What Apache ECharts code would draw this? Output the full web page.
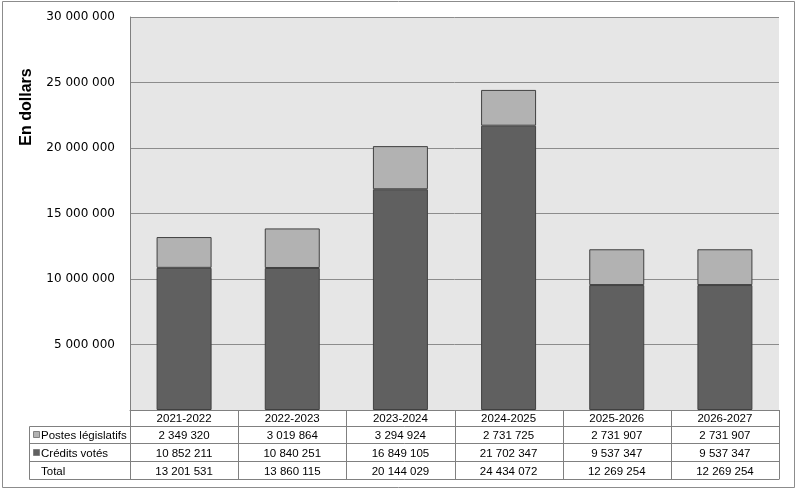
<!DOCTYPE html>
<html><head><meta charset="utf-8">
<script src="https://cdn.jsdelivr.net/npm/echarts@6/dist/echarts.min.js"></script>
<style>html,body{margin:0;padding:0;background:#fff}#c{width:797px;height:491px}</style>
</head><body><div id="c"></div>
<script>
var categories = ['2021-2022','2022-2023','2023-2024','2024-2025','2025-2026','2026-2027'];
var postes = [2349320, 3019864, 3294924, 2731725, 2731907, 2731907];
var credits = [10852211, 10840251, 16849105, 21702347, 9537347, 9537347];
var totals = [13201531, 13860115, 20144029, 24434072, 12269254, 12269254];
var rowNames = ['Postes législatifs', 'Crédits votés', 'Total'];
var yTitle = 'En dollars';

function fmt(n){ return String(n).replace(/\B(?=(\d{3})+(?!\d))/g, '\u00a0'); }

var GL = 130, GT = 17, GW = 649, GH = 393;
var FONT = '"Liberation Sans", Arial, sans-serif';
var chart = echarts.init(document.getElementById('c'));
chart.setOption({
  animation: false,
  backgroundColor: '#fff',
  grid: {left: GL, top: GT, width: GW, height: GH, show: true, backgroundColor: '#e6e6e6', borderWidth: 0},
  xAxis: {type: 'category', data: categories, axisLabel: {show: false}, axisTick: {show: false},
    axisLine: {show: true, lineStyle: {color: '#808080', width: 1}}},
  yAxis: {type: 'value', min: 0, max: 30000000, interval: 5000000,
    axisLine: {show: true, lineStyle: {color: '#808080'}}, axisTick: {show: false},
    axisLabel: {color: '#000', fontSize: 12, fontFamily: '"DejaVu Sans", sans-serif', margin: 15,
      padding: [5, 0, 0, 0],
      formatter: function(v){ return v === 0 ? '' : fmt(v); }},
    splitLine: {show: true, lineStyle: {color: '#8c8c8c', width: 1}}},
  series: [
    {name: 'Crédits votés', type: 'bar', stack: 't', data: credits, barWidth: 55,
      itemStyle: {color: '#606060', borderColor: '#404040', borderWidth: 1}},
    {name: 'Postes législatifs', type: 'bar', stack: 't', data: postes, barWidth: 55,
      itemStyle: {color: '#b2b2b2', borderColor: '#404040', borderWidth: 1}}
  ]
});

// table
var rowsY = [410, 426.5, 443.5, 461.5, 479.5];
var LC = 29.5;
var right = GL + GW;
var lineC = '#808080';
var els = [];
function hline(x1, x2, y){ els.push({type:'line', shape:{x1:x1,y1:y,x2:x2,y2:y}, style:{stroke:lineC, lineWidth:1}, z:100}); }
function vline(x, y1, y2){ els.push({type:'line', shape:{x1:x,y1:y1,x2:x,y2:y2}, style:{stroke:lineC, lineWidth:1}, z:100}); }
function txt(x, y, s, align){ els.push({type:'text', x:x, y:y, style:{text:s, fill:'#000', font:'11.5px ' + FONT, align:align||'center', verticalAlign:'middle'}, z:101}); }

hline(LC, right, rowsY[1]); hline(LC, right, rowsY[2]); hline(LC, right, rowsY[3]); hline(LC, right, rowsY[4]);
vline(LC, rowsY[1], rowsY[4]);
var colW = GW / categories.length;
for (var i = 0; i <= categories.length; i++) {
  vline(Math.round(GL + i * colW) + 0.5, rowsY[0], rowsY[4]);
}
var rowData = [postes, credits, totals];
categories.forEach(function(c, i){
  var cx = chart.convertToPixel({xAxisIndex: 0}, c);
  txt(cx, (rowsY[0] + rowsY[1]) / 2 + 1, c);
  for (var r = 0; r < 3; r++) {
    txt(cx, (rowsY[r+1] + rowsY[r+2]) / 2 + 1, fmt(rowData[r][i]));
  }
});
var keyCols = ['#b2b2b2', '#606060'];
for (var r = 0; r < 3; r++) {
  var ym = (rowsY[r+1] + rowsY[r+2]) / 2;
  if (r < 2) {
    els.push({type:'rect', shape:{x:33.5, y:Math.round(ym) - 3.5, width:6, height:6}, style:{fill:keyCols[r], stroke:'#808080', lineWidth:1}, z:101});
  }
  txt(41, ym + 1, rowNames[r], 'left');
}
// y axis title
els.push({type:'text', x:27, y:107, rotation:Math.PI/2,
  style:{text:yTitle, fill:'#000', font:'bold 16px ' + FONT, align:'center', verticalAlign:'middle'}, z:101});
// outer frame
els.push({type:'rect', shape:{x:2.5, y:1.5, width:792, height:486}, style:{fill:null, stroke:'#8c8c8c', lineWidth:1}, z:99});
chart.setOption({graphic: {elements: els}});
</script></body></html>
